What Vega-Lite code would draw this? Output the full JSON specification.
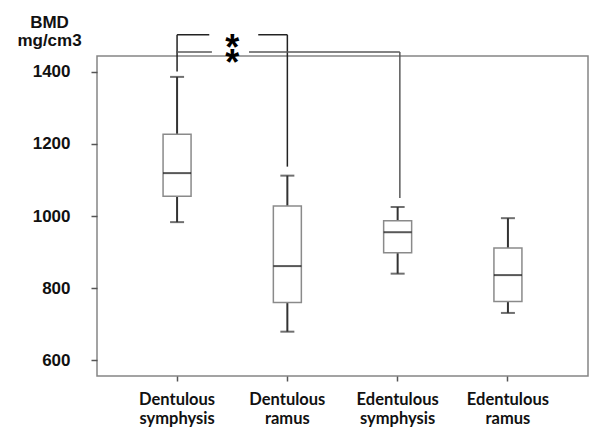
{
  "$schema": "https://vega.github.io/schema/vega-lite/v6.json",
  "width": 491,
  "height": 320,
  "autosize": {"type": "none"},
  "padding": {"left": 97, "top": 56, "right": 7, "bottom": 52},
  "background": "white",
  "config": {
    "view": {"stroke": "#858585", "strokeWidth": 1.5},
    "axis": {"grid": false, "domain": false},
    "axisY": {
      "format": "d",
      "titleAngle": 0,
      "titleAlign": "center",
      "titleBaseline": "alphabetic",
      "titleX": -48,
      "titleY": -29,
      "titleFont": "Liberation Sans",
      "titleFontWeight": "bold",
      "titleFontSize": 17,
      "titleLineHeight": 18.5,
      "titleColor": "#111",
      "labelFont": "Liberation Sans",
      "labelFontWeight": "bold",
      "labelFontSize": 17,
      "labelColor": "#111",
      "labelPadding": 21,
      "tickSize": 6,
      "tickColor": "#555",
      "tickWidth": 1.5
    }
  },
  "datasets": {
    "boxes": [
      {"group": "Dentulous symphysis", "lower": 983, "q1": 1055, "median": 1119, "q3": 1227, "upper": 1386},
      {"group": "Dentulous ramus", "lower": 679, "q1": 760, "median": 861, "q3": 1028, "upper": 1112},
      {"group": "Edentulous symphysis", "lower": 840, "q1": 898, "median": 955, "q3": 987, "upper": 1025},
      {"group": "Edentulous ramus", "lower": 731, "q1": 763, "median": 836, "q3": 911, "upper": 994}
    ],
    "segments": [
      {"series": "upper", "x": 1.0, "x2": 1.292, "y": 1503, "y2": 1503},
      {"series": "upper", "x": 1.736, "x2": 2.0, "y": 1503, "y2": 1503},
      {"series": "upper", "x": 1.0, "x2": 1.0, "y": 1503, "y2": 1401},
      {"series": "upper", "x": 2.0, "x2": 2.0, "y": 1503, "y2": 1137},
      {"series": "lower", "x": 0.99, "x2": 1.316, "y": 1455, "y2": 1455},
      {"series": "lower", "x": 1.652, "x2": 3.02, "y": 1455, "y2": 1455},
      {"series": "lower", "x": 3.02, "x2": 3.02, "y": 1455, "y2": 1050}
    ],
    "stars": [
      {"label": "*", "x": 1.5, "y": 1434},
      {"label": "*", "x": 1.5, "y": 1392}
    ]
  },
  "layer": [
    {
      "data": {"name": "boxes"},
      "encoding": {
        "x": {
          "field": "group",
          "type": "nominal",
          "sort": null,
          "scale": {"paddingInner": 0, "paddingOuter": 0.226},
          "axis": {
            "title": null,
            "labelAngle": 0,
            "labelExpr": "split(datum.label, ' ')",
            "labelFont": "Lato",
            "labelFontWeight": "bold",
            "labelFontSize": 16.5,
            "labelColor": "#111",
            "labelLineHeight": 19,
            "labelPadding": 10,
            "tickSize": 5,
            "tickColor": "#555",
            "tickWidth": 1.5
          }
        }
      },
      "layer": [
        {
          "mark": {"type": "rule", "color": "#333", "strokeWidth": 2},
          "encoding": {
            "y": {"field": "lower", "type": "quantitative", "title": ["BMD", "mg/cm3"], "scale": {"domain": [556, 1444], "nice": false, "zero": false}, "axis": {"values": [600, 800, 1000, 1200, 1400]}},
            "y2": {"field": "q1"}
          }
        },
        {
          "mark": {"type": "rule", "color": "#333", "strokeWidth": 2},
          "encoding": {
            "y": {"field": "q3", "type": "quantitative", "title": ["BMD", "mg/cm3"], "scale": {"domain": [556, 1444], "nice": false, "zero": false}, "axis": {"values": [600, 800, 1000, 1200, 1400]}},
            "y2": {"field": "upper"}
          }
        },
        {
          "mark": {"type": "bar", "size": 28, "fill": "white", "stroke": "#8a8a8a", "strokeWidth": 1.5},
          "encoding": {
            "y": {"field": "q1", "type": "quantitative", "title": ["BMD", "mg/cm3"], "scale": {"domain": [556, 1444], "nice": false, "zero": false}, "axis": {"values": [600, 800, 1000, 1200, 1400]}},
            "y2": {"field": "q3"}
          }
        },
        {
          "mark": {"type": "tick", "size": 28, "thickness": 2, "color": "#111"},
          "encoding": {
            "y": {"field": "median", "type": "quantitative", "title": ["BMD", "mg/cm3"], "scale": {"domain": [556, 1444], "nice": false, "zero": false}, "axis": {"values": [600, 800, 1000, 1200, 1400]}}
          }
        },
        {
          "mark": {"type": "tick", "size": 14, "thickness": 2, "color": "#333"},
          "encoding": {
            "y": {"field": "lower", "type": "quantitative", "title": ["BMD", "mg/cm3"], "scale": {"domain": [556, 1444], "nice": false, "zero": false}, "axis": {"values": [600, 800, 1000, 1200, 1400]}}
          }
        },
        {
          "mark": {"type": "tick", "size": 14, "thickness": 2, "color": "#333"},
          "encoding": {
            "y": {"field": "upper", "type": "quantitative", "title": ["BMD", "mg/cm3"], "scale": {"domain": [556, 1444], "nice": false, "zero": false}, "axis": {"values": [600, 800, 1000, 1200, 1400]}}
          }
        }
      ]
    },
    {
      "data": {"name": "segments"},
      "mark": {"type": "rule", "strokeWidth": 1.5, "clip": false},
      "encoding": {
        "x": {"field": "x", "type": "quantitative", "scale": {"domain": [0.274, 4.726], "nice": false, "zero": false}, "axis": null},
        "x2": {"field": "x2"},
        "y": {"field": "y", "type": "quantitative", "title": ["BMD", "mg/cm3"], "scale": {"domain": [556, 1444], "nice": false, "zero": false}, "axis": {"values": [600, 800, 1000, 1200, 1400]}},
        "y2": {"field": "y2"},
        "color": {"field": "series", "type": "nominal", "scale": {"domain": ["upper", "lower"], "range": ["#222222", "#5a5a5a"]}, "legend": null}
      }
    },
    {
      "data": {"name": "stars"},
      "mark": {"type": "text", "font": "Liberation Sans", "fontWeight": "bold", "fontSize": 36, "align": "center", "baseline": "alphabetic", "color": "#000", "clip": false},
      "encoding": {
        "x": {"field": "x", "type": "quantitative", "scale": {"domain": [0.274, 4.726], "nice": false, "zero": false}, "axis": null},
        "y": {"field": "y", "type": "quantitative", "title": ["BMD", "mg/cm3"], "scale": {"domain": [556, 1444], "nice": false, "zero": false}, "axis": {"values": [600, 800, 1000, 1200, 1400]}},
        "text": {"field": "label"}
      }
    }
  ],
  "resolve": {"scale": {"x": "independent"}}
}
